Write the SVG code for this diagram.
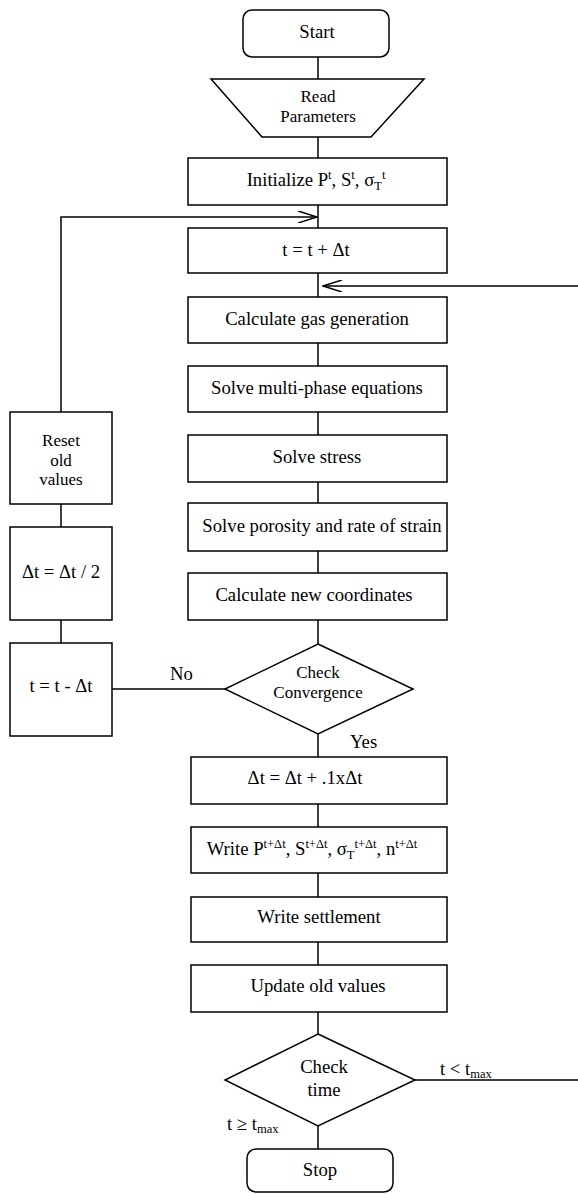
<svg xmlns="http://www.w3.org/2000/svg" width="578" height="1194" viewBox="0 0 578 1194">
<style>
.n{fill:#fff;stroke:#000;stroke-width:1.5}
.c{fill:none;stroke:#000;stroke-width:1.5}
text{font-family:"Liberation Serif","Times New Roman",serif;font-size:18.7px;fill:#000;text-anchor:middle}
.l{text-anchor:start}
.s{font-size:12.5px}
.m{font-size:17px}
</style>
<defs>
<marker id="ah" viewBox="0 0 20 12" refX="19" refY="6" markerWidth="20" markerHeight="12" markerUnits="userSpaceOnUse" orient="auto">
<path d="M0,0 L19,6 L0,12" fill="none" stroke="#000" stroke-width="1.5"/>
</marker>
</defs>
<rect width="578" height="1194" fill="#fff"/>
<g id="connectors">
<path class="c" d="M318,57 V79"/>
<path class="c" d="M318,137 V158"/>
<path class="c" d="M318,205 V228"/>
<path class="c" d="M318,273 V297"/>
<path class="c" d="M318,343 V366"/>
<path class="c" d="M318,412 V435"/>
<path class="c" d="M318,482 V503"/>
<path class="c" d="M318,551 V573"/>
<path class="c" d="M318,620 V644"/>
<path class="c" d="M318,734 V757"/>
<path class="c" d="M318,804 V827"/>
<path class="c" d="M318,873 V897"/>
<path class="c" d="M318,942 V965"/>
<path class="c" d="M318,1012 V1034"/>
<path class="c" d="M318,1126 V1149"/>
<path class="c" d="M225,689 H112"/>
<path class="c" d="M61,643 V620"/>
<path class="c" d="M61,527 V504"/>
<path class="c" d="M61,412 V217 H317" marker-end="url(#ah)"/>
<path class="c" d="M578,286 H323" marker-end="url(#ah)"/>
<path class="c" d="M415,1080 H578"/>
<text x="170" y="680" class="l">No</text>
<text x="350" y="748" class="l">Yes</text>
<text x="440" y="1075" class="l">t &lt; t<tspan class="s" dy="3">max</tspan></text>
<text x="227" y="1130" class="l">t ≥ t<tspan class="s" dy="3">max</tspan></text>
</g>
<g id="start"><rect class="n" x="243" y="10" width="146" height="47" rx="9"/><text x="317" y="38">Start</text></g>
<g id="read"><polygon class="n" points="211,79 424,79 371,137 262,137"/><text class="m" x="318" y="102">Read<tspan x="318" dy="19.5">Parameters</tspan></text></g>
<g id="init"><rect class="n" x="188" y="158" width="259" height="47"/><text x="316" y="186">Initialize P<tspan class="s" dy="-7">t</tspan><tspan dy="7">, S</tspan><tspan class="s" dy="-7">t</tspan><tspan dy="7">, σ</tspan><tspan class="s" dy="4">T</tspan><tspan class="s" dy="-11">t</tspan></text></g>
<g id="tplus"><rect class="n" x="188" y="228" width="259" height="45"/><text x="316" y="256">t = t + Δt</text></g>
<g id="gas"><rect class="n" x="188" y="297" width="259" height="46"/><text x="317" y="325">Calculate gas generation</text></g>
<g id="multi"><rect class="n" x="188" y="366" width="259" height="46"/><text x="317" y="394">Solve multi-phase equations</text></g>
<g id="stress"><rect class="n" x="188" y="435" width="259" height="47"/><text x="317" y="463">Solve stress</text></g>
<g id="porosity"><rect class="n" x="188" y="503" width="259" height="48"/><text x="322" y="532">Solve porosity and rate of strain</text></g>
<g id="coords"><rect class="n" x="188" y="573" width="259" height="47"/><text x="314" y="601">Calculate new coordinates</text></g>
<g id="conv"><polygon class="n" points="318,644 413,689 318,734 225,689"/><text class="m" x="318" y="678">Check<tspan x="318" dy="19.5">Convergence</tspan></text></g>
<g id="dtinc"><rect class="n" x="191" y="757" width="256" height="47"/><text x="305" y="784">Δt = Δt + .1xΔt</text></g>
<g id="write"><rect class="n" x="191" y="827" width="256" height="46"/><text x="312" y="855">Write P<tspan class="s" dy="-7">t+Δt</tspan><tspan dy="7">, S</tspan><tspan class="s" dy="-7">t+Δt</tspan><tspan dy="7">, σ</tspan><tspan class="s" dy="4">T</tspan><tspan class="s" dy="-11">t+Δt</tspan><tspan dy="7">, n</tspan><tspan class="s" dy="-7">t+Δt</tspan></text></g>
<g id="settle"><rect class="n" x="191" y="897" width="256" height="45"/><text x="319" y="923">Write settlement</text></g>
<g id="update"><rect class="n" x="191" y="965" width="256" height="47"/><text x="318" y="992">Update old values</text></g>
<g id="ctime"><polygon class="n" points="318,1034 415,1080 318,1126 225,1080"/><text x="324" y="1073">Check<tspan x="324" dy="23">time</tspan></text></g>
<g id="stop"><rect class="n" x="247" y="1149" width="146" height="43" rx="9"/><text x="320" y="1176">Stop</text></g>
<g id="reset"><rect class="n" x="10" y="412" width="102" height="92"/><text class="m" x="61" y="446">Reset<tspan x="61" dy="19.5">old</tspan><tspan x="61" dy="19.5">values</tspan></text></g>
<g id="half"><rect class="n" x="10" y="527" width="102" height="93"/><text x="61" y="578">Δt = Δt / 2</text></g>
<g id="tminus"><rect class="n" x="10" y="643" width="102" height="93"/><text x="61" y="692">t = t - Δt</text></g>
</svg>
